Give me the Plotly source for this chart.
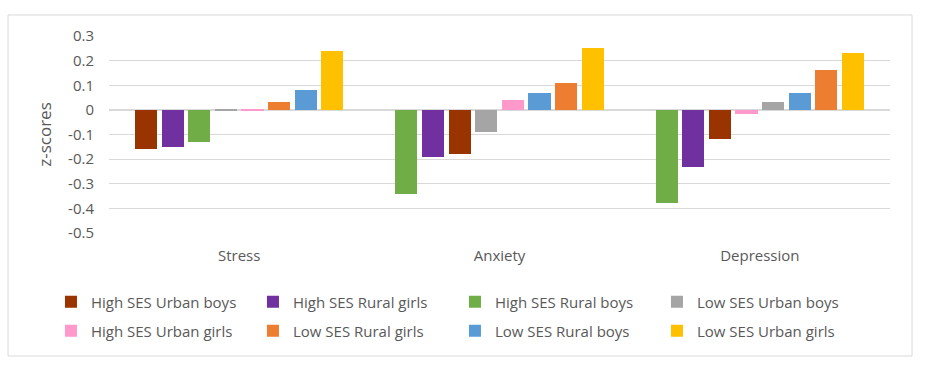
import plotly.graph_objects as go

categories = ["Stress", "Anxiety", "Depression"]

series_names = [
    "High SES Urban boys", "High SES Rural girls", "High SES Rural boys", "Low SES Urban boys",
    "High SES Urban girls", "Low SES Rural girls", "Low SES Rural boys", "Low SES Urban girls",
]
series_colors = [
    "#993300", "#7030A0", "#70AD47", "#A5A5A5",
    "#FF99CC", "#ED7D31", "#5B9BD5", "#FFC000",
]
# values per series: [Stress, Anxiety, Depression]
high_ses_urban_boys = [-0.16, -0.18, -0.12]
high_ses_rural_girls = [-0.15, -0.19, -0.23]
high_ses_rural_boys = [-0.13, -0.34, -0.38]
low_ses_urban_boys = [-0.006, -0.09, 0.03]
high_ses_urban_girls = [-0.005, 0.04, -0.015]
low_ses_rural_girls = [0.03, 0.11, 0.16]
low_ses_rural_boys = [0.08, 0.07, 0.07]
low_ses_urban_girls = [0.24, 0.25, 0.23]

series_values = [
    high_ses_urban_boys, high_ses_rural_girls, high_ses_rural_boys, low_ses_urban_boys,
    high_ses_urban_girls, low_ses_rural_girls, low_ses_rural_boys, low_ses_urban_girls,
]

y_tick_values = [0.3, 0.2, 0.1, 0, -0.1, -0.2, -0.3, -0.4, -0.5]
y_tick_labels = ["0.3", "0.2", "0.1", "0", "-0.1", "-0.2", "-0.3", "-0.4", "-0.5"]

FONT = "Open Sans, Noto Sans, sans-serif"
GREY_TXT = "#595959"
GRID = "#D9D9D9"

n_series = len(series_names)
slot = 0.1024
bar_w = 0.0846

# within each category, bars are ordered by value (ascending)
ranks = []
for ci in range(len(categories)):
    order = sorted(range(n_series), key=lambda s: series_values[s][ci])
    r = [0] * n_series
    for pos, s in enumerate(order):
        r[s] = pos
    ranks.append(r)

fig = go.Figure()
for s in range(n_series):
    xs = [ci + (ranks[ci][s] - (n_series - 1) / 2) * slot for ci in range(len(categories))]
    fig.add_trace(go.Bar(
        x=xs, y=series_values[s], width=bar_w, name=series_names[s],
        marker=dict(color=series_colors[s], line=dict(width=0)),
        legend="legend" if s < 4 else "legend2",
        hovertext=[categories[ci] for ci in range(len(categories))],
    ))

legend_common = dict(
    orientation="h", xanchor="left", yanchor="middle", x=-0.0743,
    font=dict(family=FONT, size=15, color=GREY_TXT),
    entrywidth=157, entrywidthmode="pixels", traceorder="normal",
    bgcolor="rgba(0,0,0,0)",
)

fig.update_layout(
    width=926, height=368,
    margin=dict(l=109, r=36, t=36, b=135, pad=0),
    paper_bgcolor="white", plot_bgcolor="white",
    barmode="overlay", bargap=0,
    showlegend=True,
    legend=dict(legend_common, y=-0.350),
    legend2=dict(legend_common, y=-0.497),
    xaxis=dict(
        range=[-0.5, 2.5], tickvals=list(range(len(categories))), ticktext=categories,
        showgrid=False, zeroline=False, showline=False, ticks="",
        tickfont=dict(family=FONT, size=15, color=GREY_TXT), ticklabelstandoff=12,
    ),
    yaxis=dict(
        range=[-0.5, 0.3], tickvals=y_tick_values, ticktext=y_tick_labels,
        showgrid=True, gridcolor=GRID, gridwidth=1,
        zeroline=True, zerolinecolor=GRID, zerolinewidth=1.5,
        showline=False, ticks="",
        tickfont=dict(family=FONT, size=15, color=GREY_TXT), ticklabelstandoff=14,
        title=dict(text="z-scores", font=dict(family=FONT, size=17, color=GREY_TXT), standoff=12),
    ),
    shapes=[dict(
        type="rect", xref="paper", yref="paper",
        x0=-0.1293, x1=1.0282, y0=-0.6244, y1=1.1066,
        line=dict(color=GRID, width=1), fillcolor="rgba(0,0,0,0)", layer="below",
    )],
)

fig.write_html(
    "out.html",
    config={"displayModeBar": False},
    post_script="document.body.style.margin='0';document.body.style.overflow='hidden';",
)
